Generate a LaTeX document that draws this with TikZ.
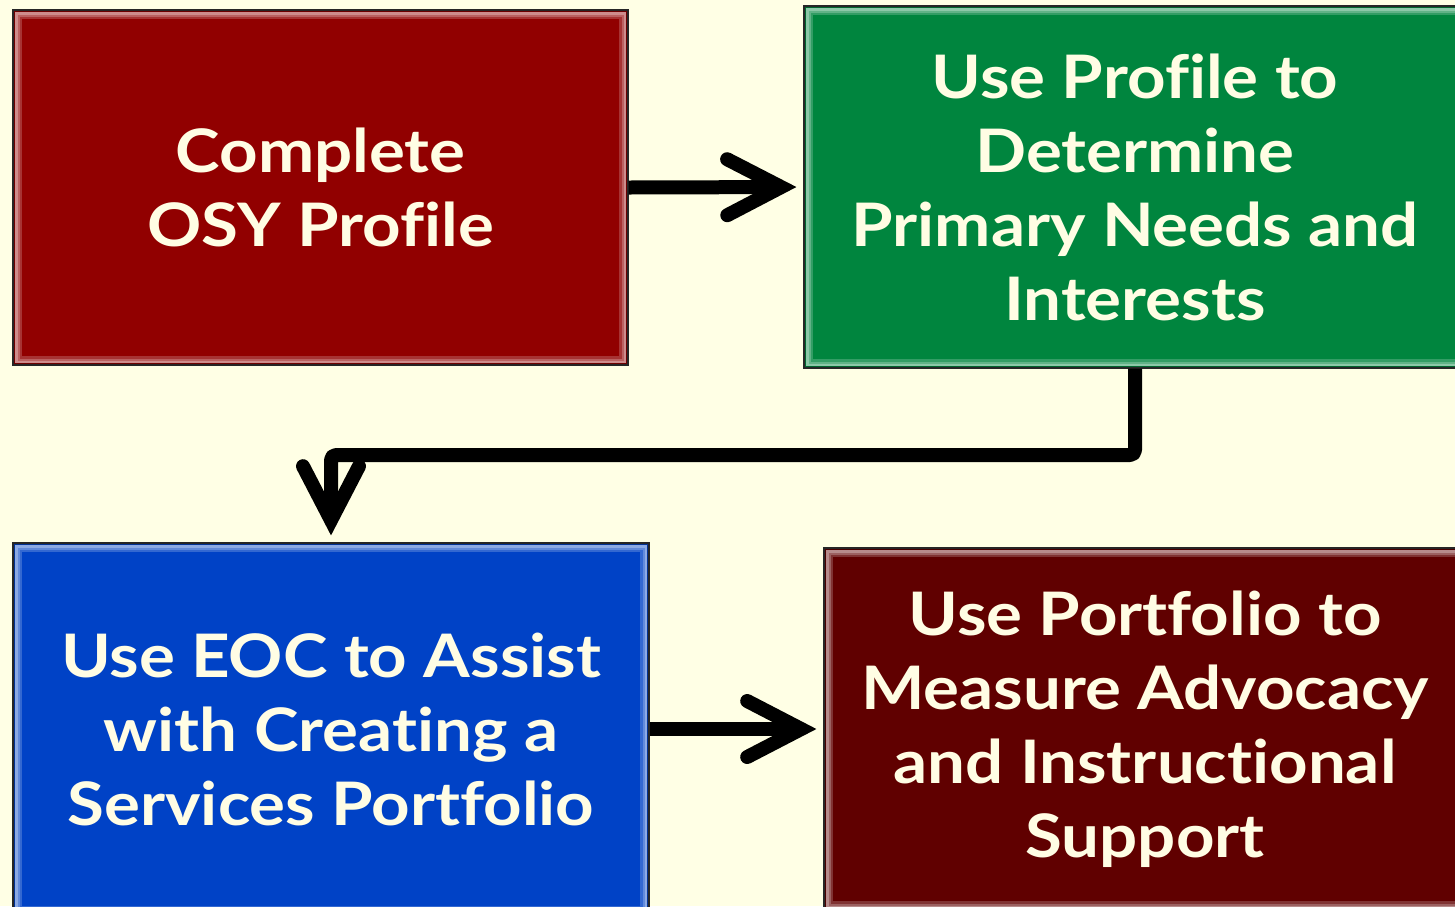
\documentclass[tikz,border=0pt]{standalone}
\usepackage{fontspec}
\setmainfont{Lato}[Ligatures=NoCommon, FakeStretch=1.12]
\usetikzlibrary{arrows.meta}
\definecolor{paper}{HTML}{FFFFE5}
\definecolor{ink}{HTML}{FFFDE4}
\definecolor{boxred}{HTML}{910000}
\definecolor{boxgreen}{HTML}{00853E}
\definecolor{boxblue}{HTML}{0042C6}
\definecolor{boxmaroon}{HTML}{600000}
\tikzset{
  bevelbox/.style={
    rectangle, fill=#1, draw=black!85, line width=1.2pt,
    text=ink, align=center, inner sep=0pt,
    font=\fontsize{60}{74}\selectfont\bfseries,
    path picture={
      \draw[line width=18pt, #1!80!white]
        (path picture bounding box.north west) rectangle (path picture bounding box.south east);
      \draw[line width=13pt, #1!62!white]
        (path picture bounding box.north west) rectangle (path picture bounding box.south east);
      \draw[line width=9pt, #1!45!white]
        (path picture bounding box.north west) rectangle (path picture bounding box.south east);
      \draw[line width=4pt, #1!75!black]
        (path picture bounding box.north west) rectangle (path picture bounding box.south east);
    }
  },
  conn/.style={
    draw=black, line width=14pt, line join=round,
    -{Straight Barb[length=54pt, width=56pt, line cap=round, line join=miter]},
    shorten >=7pt
  }
}
\begin{document}
\begin{tikzpicture}[x=1pt, y=-1pt]
  \fill[paper] (0,0) rectangle (1455,906);
  \useasboundingbox (0,0) rectangle (1455,906);
  \begin{scope}
    \clip (0,0) rectangle (1455,906);
    % process steps
    \node[bevelbox=boxred, minimum width=615pt, minimum height=355pt]
      (profile) at (320.5,187.5) {Complete\\OSY Profile};
    \node[bevelbox=boxgreen, minimum width=662pt, minimum height=362pt]
      (needs) at (1135,187) {Use Profile to\\Determine\\Primary Needs and\\Interests};
    \node[bevelbox=boxblue, minimum width=636pt, minimum height=372pt]
      (eoc) at (331,729) {Use EOC to Assist\\with Creating a\\Services Portfolio};
    \node[bevelbox=boxmaroon, minimum width=642pt, minimum height=362pt]
      (measure) at (1145,729) {Use Portfolio to\\Measure Advocacy\\and Instructional\\Support};
    % connectors
    \coordinate (bend) at (331,455);
    \draw[conn] (profile.east) -- (needs.west);
    \draw[conn, rounded corners=5pt] (needs.south) |- (bend) -- (eoc.north);
    \draw[conn] (eoc.east) -- (measure.west |- eoc.east);
  \end{scope}
\end{tikzpicture}
\end{document}
